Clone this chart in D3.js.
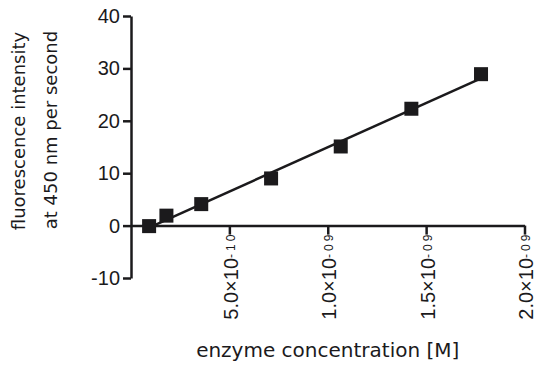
<!DOCTYPE html>
<html>
<head>
<meta charset="utf-8">
<script src="https://cdn.jsdelivr.net/npm/d3@7"></script>
<style>
  body { margin: 0; background: #fff; }
</style>
</head>
<body>
<div id="chart"></div>
<script>
// data
const concentration = [0.92e-10, 1.8e-10, 3.57e-10, 7.12e-10, 1.066e-9, 1.425e-9, 1.779e-9];
const intensity = [-0.1, 1.9, 4.1, 9.0, 15.1, 22.3, 28.9];
const xTicks = [5e-10, 1e-9, 1.5e-9, 2e-9];
const xTickMantissa = ["5.0", "1.0", "1.5", "2.0"];
const xTickExponent = ["-10", "-09", "-09", "-09"];
const yTicks = [-10, 0, 10, 20, 30, 40];

const width = 550, height = 376;
const ink = "#1b1a1c";

const x = d3.scaleLinear()
    .domain([0, 2e-9])
    .range([131, 524.5]);

const y = d3.scaleLinear()
    .domain([-10, 40])
    .range([278, 16]);

const svg = d3.select("#chart")
  .append("svg")
    .attr("width", width)
    .attr("height", height);

// y axis
const yAxis = svg.append("g")
    .attr("transform", `translate(${x(0)},0)`)
    .call(d3.axisLeft(y).tickValues(yTicks).tickFormat(d => String(d))
        .tickSize(8).tickSizeOuter(0).tickPadding(3));

yAxis.select(".domain").attr("stroke", ink).attr("stroke-width", 2.5);
yAxis.selectAll(".tick line").attr("stroke", ink).attr("stroke-width", 2.5);
yAxis.selectAll(".tick text")
    .attr("fill", ink)
    .style("font-family", "Liberation Sans, Arial, sans-serif")
    .style("font-size", "20px");

// x axis on the zero line
const xAxis = svg.append("g")
    .attr("transform", `translate(0,${y(0)})`)
    .call(d3.axisBottom(x).tickValues(xTicks).tickSize(9).tickSizeOuter(0));

xAxis.select(".domain").attr("stroke", ink).attr("stroke-width", 2.5);
xAxis.selectAll(".tick line").attr("stroke", ink).attr("stroke-width", 2.5);

const xLabels = xAxis.selectAll(".tick text")
    .text("")
    .attr("fill", ink)
    .attr("transform", "rotate(-90)")
    .attr("text-anchor", "end")
    .attr("x", -6)
    .attr("y", 8)
    .attr("dy", 0)
    .style("font-family", "Liberation Sans, Arial, sans-serif")
    .style("font-size", "20px");

xLabels.append("tspan")
    .text((d, i) => xTickMantissa[i] + "×10");

xLabels.append("tspan")
    .attr("dy", -3)
    .style("font-size", "12px")
    .style("letter-spacing", "3px")
    .text((d, i) => xTickExponent[i]);

// linear fit through the points
const mx = d3.mean(concentration), my = d3.mean(intensity);
const slope = d3.sum(concentration, (c, i) => (c - mx) * (intensity[i] - my)) /
    d3.sum(concentration, c => (c - mx) * (c - mx));
const intercept = my - slope * mx;
const fitX = d3.extent(concentration);

svg.append("line")
    .attr("x1", x(fitX[0]))
    .attr("y1", y(intercept + slope * fitX[0]))
    .attr("x2", x(fitX[1]))
    .attr("y2", y(intercept + slope * fitX[1]))
    .attr("stroke", ink)
    .attr("stroke-width", 2.5);

// square markers
const s = 14;
svg.selectAll("rect.pt")
  .data(concentration)
  .join("rect")
    .attr("class", "pt")
    .attr("x", d => x(d) - s / 2)
    .attr("y", (d, i) => y(intensity[i]) - s / 2)
    .attr("width", s)
    .attr("height", s)
    .attr("fill", ink);

// axis titles
const title = svg.append("g")
    .style("font-family", "DejaVu Sans, sans-serif")
    .attr("fill", ink);

title.append("text")
    .attr("x", x(1e-9))
    .attr("y", 357)
    .attr("text-anchor", "middle")
    .style("font-size", "20px")
    .text("enzyme concentration [M]");

title.append("text")
    .attr("transform", "translate(25,131) rotate(-90)")
    .attr("text-anchor", "middle")
    .style("font-size", "18px")
    .text("fluorescence intensity");

title.append("text")
    .attr("transform", "translate(57,130) rotate(-90)")
    .attr("text-anchor", "middle")
    .style("font-size", "18px")
    .text("at 450 nm per second");
</script>
</body>
</html>
